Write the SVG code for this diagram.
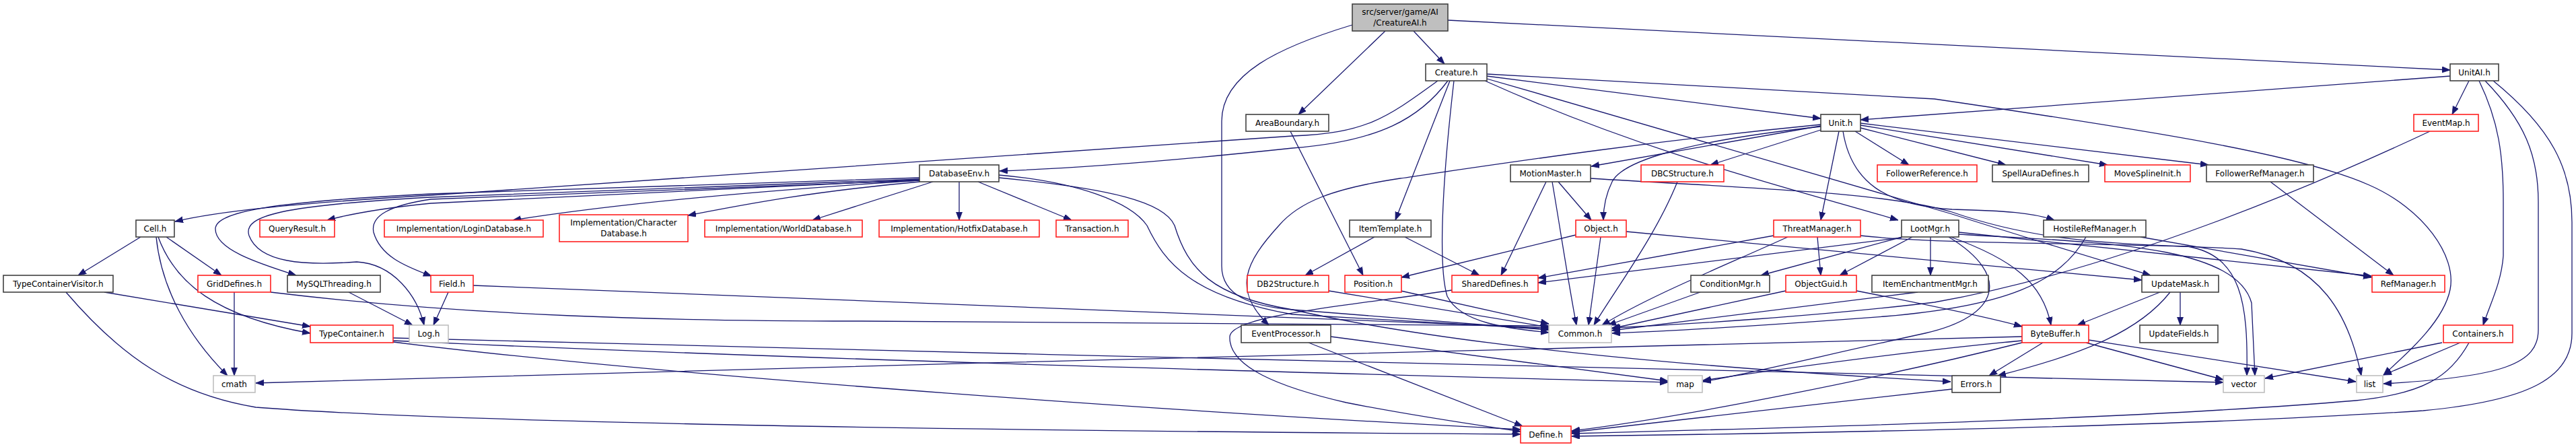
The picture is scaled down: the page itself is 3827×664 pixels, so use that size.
<svg xmlns="http://www.w3.org/2000/svg" width="3827" height="664" viewBox="0 0 3827 664">
<style>
.b{fill:#fff;stroke:#404040;stroke-width:1.6}
.r{fill:#fff;stroke:#ff2020;stroke-width:1.6}
.g{fill:#fff;stroke:#bfbfbf;stroke-width:1.6}
.root{fill:#bfbfbf;stroke:#404040;stroke-width:1.6}
text{font-family:"DejaVu Sans","Liberation Sans",sans-serif;font-size:12px;fill:#000;text-anchor:middle}
#edges path{fill:none;stroke:#191970;stroke-width:1.3;marker-end:url(#ah)}
</style>
<defs>
<marker id="ah" markerUnits="userSpaceOnUse" markerWidth="13" markerHeight="10" refX="12" refY="4.5" orient="auto">
<path d="M0,0 L12,4.5 L0,9 z" fill="#191970" stroke="#191970" stroke-width="0.8"/>
</marker>
</defs>
<rect width="3827" height="664" fill="#fff"/>
<g id="edges">
<path d="M2100,46 L2146,95"/>
<path d="M2058,46 L1929,170"/>
<path d="M2151,30 L3640,104"/>
<path d="M2009,37 C1900,70 1815,110 1815,180 L1815,395 C1815,440 1860,455 1920,460 L2301,490"/>
<path d="M2209,113 L2705,176"/>
<path d="M2151,120 C2110,175 2050,210 1920,220 C1750,238 1600,250 1485,254"/>
<path d="M2136,120 C2060,175 2030,198 1920,202 L640,290 C420,303 320,315 260,329"/>
<path d="M2154,120 L2073,327"/>
<path d="M2160,120 C2145,250 2135,390 2150,440 C2170,480 2240,488 2301,494"/>
<path d="M2206,120 C2450,230 2680,285 2820,327"/>
<path d="M2209,117 C2500,200 2800,290 2900,318 C3000,350 3100,380 3195,409"/>
<path d="M2209,110 L2874,147 C3200,195 3420,230 3520,275 C3600,310 3650,380 3640,430 C3630,480 3570,530 3541,557"/>
<path d="M3640,113 L2764,178"/>
<path d="M3668,120 L3643,170"/>
<path d="M3683,120 C3712,180 3719,230 3719,300 L3719,380 C3716,420 3700,450 3689,483"/>
<path d="M3692,120 C3750,180 3771,230 3771,300 L3771,490 C3771,540 3720,560 3541,570"/>
<path d="M3704,120 C3790,190 3821,250 3821,330 L3821,495 C3821,560 3760,595 3600,610 C3300,630 2800,642 2335,648"/>
<path d="M2705,187 L2364,247"/>
<path d="M2705,188 C2500,210 2410,240 2395,270 C2385,290 2382,310 2382,327"/>
<path d="M2705,193 L2541,245"/>
<path d="M2705,185 C2450,210 2250,240 2080,265 C1980,280 1930,300 1900,335 C1850,390 1830,430 1885,483"/>
<path d="M2732,195 L2705,327"/>
<path d="M2756,195 L2836,245"/>
<path d="M2764,190 L2980,245"/>
<path d="M2764,186 L3131,245"/>
<path d="M2764,183 L3281,245"/>
<path d="M2738,195 C2750,270 2800,305 2900,311 C2980,313 3020,316 3052,327"/>
<path d="M2315,270 L2364,327"/>
<path d="M2297,270 L2230,409"/>
<path d="M2306,270 C2318,340 2330,420 2342,483"/>
<path d="M2363,265 C2600,280 2800,285 2900,315 C3000,350 3100,362 3250,366 C3330,380 3340,450 3338,558"/>
<path d="M2492,270 C2460,350 2400,430 2368,483"/>
<path d="M3373,270 L3556,409"/>
<path d="M2042,352 L1939,409"/>
<path d="M2087,352 L2198,409"/>
<path d="M1917,195 C1950,260 1990,340 2025,409"/>
<path d="M2341,349 L2082,412"/>
<path d="M2378,352 L2360,483"/>
<path d="M2416,344 L3182,416"/>
<path d="M2635,350 L2285,413"/>
<path d="M2700,352 L2705,409"/>
<path d="M2656,352 C2550,400 2450,440 2380,483"/>
<path d="M2764,350 C2900,365 3200,360 3330,370 C3450,390 3490,470 3508,558"/>
<path d="M2825,353 L2285,420"/>
<path d="M2826,352 L2616,409"/>
<path d="M2841,352 L2733,409"/>
<path d="M2868,352 L2868,409"/>
<path d="M2910,345 L3523,410"/>
<path d="M2898,352 C2990,385 3035,420 3047,483"/>
<path d="M2895,352 C2990,410 2970,470 2860,495 C2700,530 2600,555 2530,567"/>
<path d="M2910,348 C3100,360 3320,360 3345,450 L3350,558"/>
<path d="M3180,352 L3523,412"/>
<path d="M3099,352 C3060,420 2980,455 2800,470 C2600,485 2480,492 2395,495"/>
<path d="M3610,195 C3450,270 3150,400 2874,449 C2700,470 2500,482 2395,487"/>
<path d="M2526,434 L2389,483"/>
<path d="M2653,432 L2394,488"/>
<path d="M2758,432 C2850,450 2950,470 3004,485"/>
<path d="M2849,434 L2394,491"/>
<path d="M3209,434 L3086,483"/>
<path d="M3239,434 L3239,483"/>
<path d="M3224,434 C3180,490 3100,525 2968,558"/>
<path d="M3035,509 L2955,558"/>
<path d="M3099,509 L3303,564"/>
<path d="M3103,505 L3500,567"/>
<path d="M3004,500 C2500,512 1200,545 380,569"/>
<path d="M3004,506 C2800,525 2600,555 2530,565"/>
<path d="M3004,509 C2800,560 2500,620 2335,640"/>
<path d="M3628,509 L3365,562"/>
<path d="M3655,509 L3541,557"/>
<path d="M3668,509 C3640,560 3600,585 3500,595 C3200,620 2800,632 2335,644"/>
<path d="M2900,578 C2700,600 2450,630 2335,642"/>
<path d="M1977,500 L2478,566"/>
<path d="M1944,509 L2262,633"/>
<path d="M2157,431 C2000,455 1830,468 1827,500 C1825,545 1900,575 2000,598 C2100,618 2200,632 2259,641"/>
<path d="M2081,432 L2301,481"/>
<path d="M1974,432 L2301,486"/>
<path d="M703,424 C1000,437 1600,462 2301,487"/>
<path d="M666,434 L644,483"/>
<path d="M402,434 C700,470 1000,477 1280,477 L2301,484"/>
<path d="M348,434 L348,558"/>
<path d="M518,434 L613,483"/>
<path d="M1366,266 L640,293 C420,305 360,320 370,350 C385,390 450,395 530,389 C585,392 620,440 630,483"/>
<path d="M1366,264 L640,288 C400,300 320,315 320,340 C320,370 380,390 440,409"/>
<path d="M1366,267 L640,302 C560,310 520,318 486,327"/>
<path d="M1366,268 L640,296 C580,305 550,320 555,345 C565,380 600,395 641,410"/>
<path d="M1366,268 C1100,285 900,305 762,327"/>
<path d="M1366,270 C1200,285 1100,305 1022,320"/>
<path d="M1386,270 L1207,327"/>
<path d="M1425,270 L1425,327"/>
<path d="M1453,270 L1592,327"/>
<path d="M1484,260 C1600,270 1680,300 1704,335 C1730,390 1770,440 1920,467 L2301,489"/>
<path d="M1484,264 C1650,280 1730,300 1745,335 C1765,400 1800,440 1920,460 C2150,512 2500,545 2898,567"/>
<path d="M209,352 L116,409"/>
<path d="M247,352 L329,409"/>
<path d="M232,352 C240,430 280,500 338,558"/>
<path d="M235,352 C260,420 320,470 461,495"/>
<path d="M155,434 L461,485"/>
<path d="M98,434 C180,530 260,585 380,605 C700,630 1500,640 2259,645"/>
<path d="M584,502 C1500,530 2800,548 3303,568"/>
<path d="M584,506 C1200,535 2000,555 2478,568"/>
<path d="M584,508 C1000,560 1800,615 2259,638"/>
</g>
<g id="CreatureAI"><rect class="root" x="2009" y="6" width="142" height="40"/><text x="2080" y="22">src/server/game/AI</text><text x="2080" y="38">/CreatureAI.h</text></g>
<g id="Creature"><rect class="b" x="2118" y="95" width="91" height="25"/><text x="2163.5" y="112">Creature.h</text></g>
<g id="UnitAI"><rect class="b" x="3640" y="95" width="72" height="25"/><text x="3676" y="112">UnitAI.h</text></g>
<g id="AreaBoundary"><rect class="b" x="1851" y="170" width="123" height="25"/><text x="1912.5" y="187">AreaBoundary.h</text></g>
<g id="Unit"><rect class="b" x="2705" y="170" width="59" height="25"/><text x="2734.5" y="187">Unit.h</text></g>
<g id="EventMap"><rect class="r" x="3586" y="170" width="96" height="25"/><text x="3634" y="187">EventMap.h</text></g>
<g id="DatabaseEnv"><rect class="b" x="1366" y="245" width="118" height="25"/><text x="1425" y="262">DatabaseEnv.h</text></g>
<g id="MotionMaster"><rect class="b" x="2244" y="245" width="119" height="25"/><text x="2303.5" y="262">MotionMaster.h</text></g>
<g id="DBCStructure"><rect class="r" x="2438" y="245" width="123" height="25"/><text x="2499.5" y="262">DBCStructure.h</text></g>
<g id="FollowerReference"><rect class="r" x="2789" y="245" width="148" height="25"/><text x="2863" y="262">FollowerReference.h</text></g>
<g id="SpellAuraDefines"><rect class="b" x="2960" y="245" width="143" height="25"/><text x="3031.5" y="262">SpellAuraDefines.h</text></g>
<g id="MoveSplineInit"><rect class="r" x="3127" y="245" width="127" height="25"/><text x="3190.5" y="262">MoveSplineInit.h</text></g>
<g id="FollowerRefManager"><rect class="b" x="3278" y="245" width="159" height="25"/><text x="3357.5" y="262">FollowerRefManager.h</text></g>
<g id="Cell"><rect class="b" x="202" y="327" width="57" height="25"/><text x="230.5" y="344">Cell.h</text></g>
<g id="QueryResult"><rect class="r" x="386" y="327" width="111" height="25"/><text x="441.5" y="344">QueryResult.h</text></g>
<g id="LoginDatabase"><rect class="r" x="571" y="327" width="236" height="25"/><text x="689" y="344">Implementation/LoginDatabase.h</text></g>
<g id="CharacterDatabase"><rect class="r" x="831" y="319" width="191" height="40"/><text x="926.5" y="335">Implementation/Character</text><text x="926.5" y="351">Database.h</text></g>
<g id="WorldDatabase"><rect class="r" x="1047" y="327" width="234" height="25"/><text x="1164" y="344">Implementation/WorldDatabase.h</text></g>
<g id="HotfixDatabase"><rect class="r" x="1306" y="327" width="238" height="25"/><text x="1425" y="344">Implementation/HotfixDatabase.h</text></g>
<g id="Transaction"><rect class="r" x="1569" y="327" width="107" height="25"/><text x="1622.5" y="344">Transaction.h</text></g>
<g id="ItemTemplate"><rect class="b" x="2005" y="327" width="121" height="25"/><text x="2065.5" y="344">ItemTemplate.h</text></g>
<g id="Object"><rect class="r" x="2341" y="327" width="75" height="25"/><text x="2378.5" y="344">Object.h</text></g>
<g id="ThreatManager"><rect class="r" x="2635" y="327" width="129" height="25"/><text x="2699.5" y="344">ThreatManager.h</text></g>
<g id="LootMgr"><rect class="b" x="2825" y="327" width="85" height="25"/><text x="2867.5" y="344">LootMgr.h</text></g>
<g id="HostileRefManager"><rect class="b" x="3036" y="327" width="152" height="25"/><text x="3112" y="344">HostileRefManager.h</text></g>
<g id="TypeContainerVisitor"><rect class="b" x="5" y="409" width="163" height="25"/><text x="86.5" y="426">TypeContainerVisitor.h</text></g>
<g id="GridDefines"><rect class="r" x="294" y="409" width="108" height="25"/><text x="348" y="426">GridDefines.h</text></g>
<g id="MySQLThreading"><rect class="b" x="427" y="409" width="138" height="25"/><text x="496" y="426">MySQLThreading.h</text></g>
<g id="Field"><rect class="r" x="640" y="409" width="63" height="25"/><text x="671.5" y="426">Field.h</text></g>
<g id="DB2Structure"><rect class="r" x="1853" y="409" width="121" height="25"/><text x="1913.5" y="426">DB2Structure.h</text></g>
<g id="Position"><rect class="r" x="1998" y="409" width="84" height="25"/><text x="2040" y="426">Position.h</text></g>
<g id="SharedDefines"><rect class="r" x="2157" y="409" width="128" height="25"/><text x="2221" y="426">SharedDefines.h</text></g>
<g id="ConditionMgr"><rect class="b" x="2512" y="409" width="117" height="25"/><text x="2570.5" y="426">ConditionMgr.h</text></g>
<g id="ObjectGuid"><rect class="r" x="2653" y="409" width="105" height="25"/><text x="2705.5" y="426">ObjectGuid.h</text></g>
<g id="ItemEnchantmentMgr"><rect class="b" x="2781" y="409" width="173" height="25"/><text x="2867.5" y="426">ItemEnchantmentMgr.h</text></g>
<g id="UpdateMask"><rect class="b" x="3182" y="409" width="114" height="25"/><text x="3239" y="426">UpdateMask.h</text></g>
<g id="RefManager"><rect class="r" x="3524" y="409" width="108" height="25"/><text x="3578" y="426">RefManager.h</text></g>
<g id="TypeContainer"><rect class="r" x="461" y="483" width="123" height="26"/><text x="522.5" y="500">TypeContainer.h</text></g>
<g id="Log"><rect class="g" x="608" y="483" width="58" height="26"/><text x="637" y="500">Log.h</text></g>
<g id="EventProcessor"><rect class="b" x="1844" y="483" width="133" height="26"/><text x="1910.5" y="500">EventProcessor.h</text></g>
<g id="Common"><rect class="g" x="2301" y="483" width="93" height="26"/><text x="2347.5" y="500">Common.h</text></g>
<g id="ByteBuffer"><rect class="r" x="3004" y="483" width="99" height="26"/><text x="3053.5" y="500">ByteBuffer.h</text></g>
<g id="UpdateFields"><rect class="b" x="3179" y="483" width="116" height="26"/><text x="3237" y="500">UpdateFields.h</text></g>
<g id="Containers"><rect class="r" x="3630" y="483" width="103" height="26"/><text x="3681.5" y="500">Containers.h</text></g>
<g id="cmath"><rect class="g" x="317" y="558" width="62" height="25"/><text x="348" y="575">cmath</text></g>
<g id="map"><rect class="g" x="2478" y="558" width="51" height="25"/><text x="2503.5" y="575">map</text></g>
<g id="Errors"><rect class="b" x="2900" y="558" width="72" height="25"/><text x="2936" y="575">Errors.h</text></g>
<g id="vector"><rect class="g" x="3303" y="558" width="61" height="25"/><text x="3333.5" y="575">vector</text></g>
<g id="list"><rect class="g" x="3501" y="558" width="39" height="25"/><text x="3520.5" y="575">list</text></g>
<g id="Define"><rect class="r" x="2259" y="633" width="75" height="25"/><text x="2296.5" y="650">Define.h</text></g>
</svg>
